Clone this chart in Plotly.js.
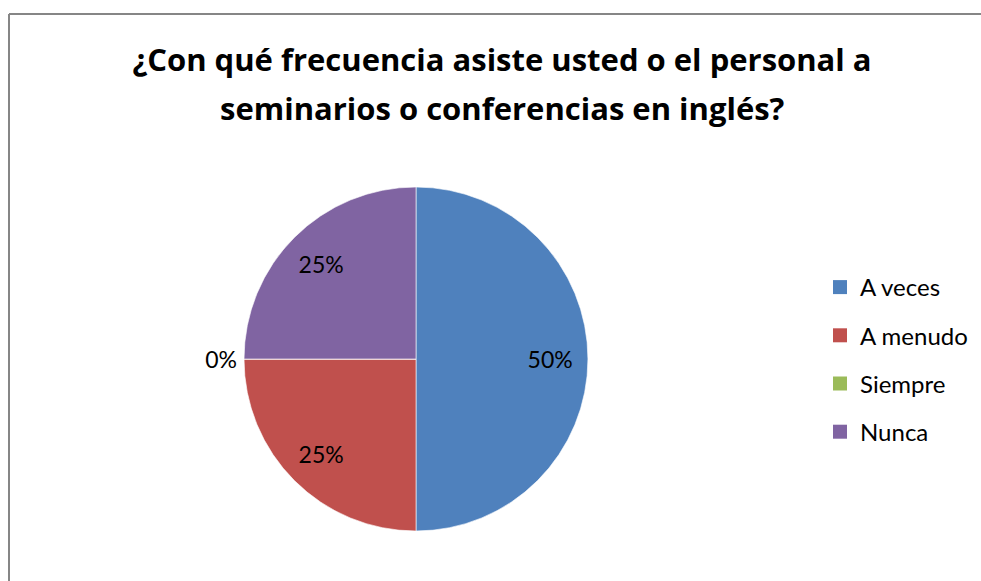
<!DOCTYPE html>
<html><head><meta charset="utf-8">
<script src="https://cdn.plot.ly/plotly-3.0.1.min.js"></script>
<style>body{margin:0;padding:0;background:#fff}#chart{width:981px;height:581px}</style>
</head><body><div id="chart"></div>
<script>
const categories = ['A veces', 'A menudo', 'Siempre', 'Nunca'];
const values = [50, 25, 0, 25];
const colors = ['#4F81BD', '#C0504D', '#9BBB59', '#8064A2'];
const titleLine1 = '¿Con qué frecuencia asiste usted o el personal a';
const titleLine2 = 'seminarios o conferencias en inglés?';

const W = 981, H = 581;
const FONT = 'Lato, "Open Sans", sans-serif';
const TFONT = '"Open Sans", Lato, sans-serif';
const pieDomain = {x: [244 / W, 588 / W], y: [1 - 531 / H, 1 - 187 / H]};

// main pie: colours, plus the outside label for the empty slice
const pie = {
  type: 'pie',
  labels: categories,
  values: values,
  sort: false,
  direction: 'clockwise',
  rotation: 0,
  marker: {colors: colors, line: {color: '#ffffff', width: 0.6}},
  texttemplate: '%{percent:.0%}',
  textposition: values.map(v => v > 0 ? 'none' : 'outside'),
  outsidetextfont: {family: FONT, size: 23, color: '#000'},
  showlegend: false,
  hoverinfo: 'label+percent',
  domain: pieDomain
};

// transparent ring overlay: places the inside labels further out, as in the reference
const labelRing = {
  type: 'pie',
  labels: categories,
  values: values,
  sort: false,
  direction: 'clockwise',
  rotation: 0,
  hole: 0.56,
  marker: {colors: categories.map(() => 'rgba(0,0,0,0)'), line: {width: 0}},
  texttemplate: '%{percent:.0%}',
  textposition: values.map(v => v > 0 ? 'inside' : 'none'),
  insidetextorientation: 'horizontal',
  insidetextfont: {family: FONT, size: 23, color: '#000'},
  showlegend: false,
  hoverinfo: 'skip',
  domain: pieDomain
};

const legendTraces = categories.map((c, i) => ({
  type: 'scatter', mode: 'markers', x: [null], y: [null], name: c,
  legendgroup: c,
  marker: {symbol: 'square', size: 14, color: colors[i]},
  showlegend: true, hoverinfo: 'skip'
}));

const layout = {
  width: W, height: H,
  margin: {l: 0, r: 0, t: 0, b: 0},
  paper_bgcolor: '#fff', plot_bgcolor: 'rgba(0,0,0,0)',
  font: {family: FONT, color: '#000'},
  title: {
    text: '<b>' + titleLine1 + '</b>',
    font: {family: TFONT, size: 31, color: '#000'},
    x: 502 / W, xanchor: 'center', y: 1 - 60 / H, yanchor: 'middle'
  },
  annotations: [{
    text: '<b>' + titleLine2 + '</b>', xref: 'paper', yref: 'paper',
    x: 502 / W, xanchor: 'center', y: 1 - 108 / H, yanchor: 'middle',
    showarrow: false, font: {family: TFONT, size: 31, color: '#000'}
  }],
  xaxis: {visible: false, domain: [0.9, 0.91]},
  yaxis: {visible: false, domain: [0.9, 0.91]},
  legend: {
    x: 820 / W, xanchor: 'left', y: 1 - 265 / H, yanchor: 'top',
    font: {family: FONT, size: 24, color: '#000'},
    tracegroupgap: 14, traceorder: 'grouped', bgcolor: 'rgba(0,0,0,0)'
  },
  shapes: [
    {type: 'line', xref: 'paper', yref: 'paper', x0: 9 / W, x1: 1.05, y0: 1 - 14 / H, y1: 1 - 14 / H, line: {color: '#868686', width: 2}},
    {type: 'line', xref: 'paper', yref: 'paper', x0: 9 / W, x1: 9 / W, y0: 1 - 14 / H, y1: -0.05, line: {color: '#868686', width: 2}}
  ]
};

Plotly.newPlot('chart', [pie, labelRing].concat(legendTraces), layout, {displayModeBar: false, staticPlot: true});
</script></body></html>
